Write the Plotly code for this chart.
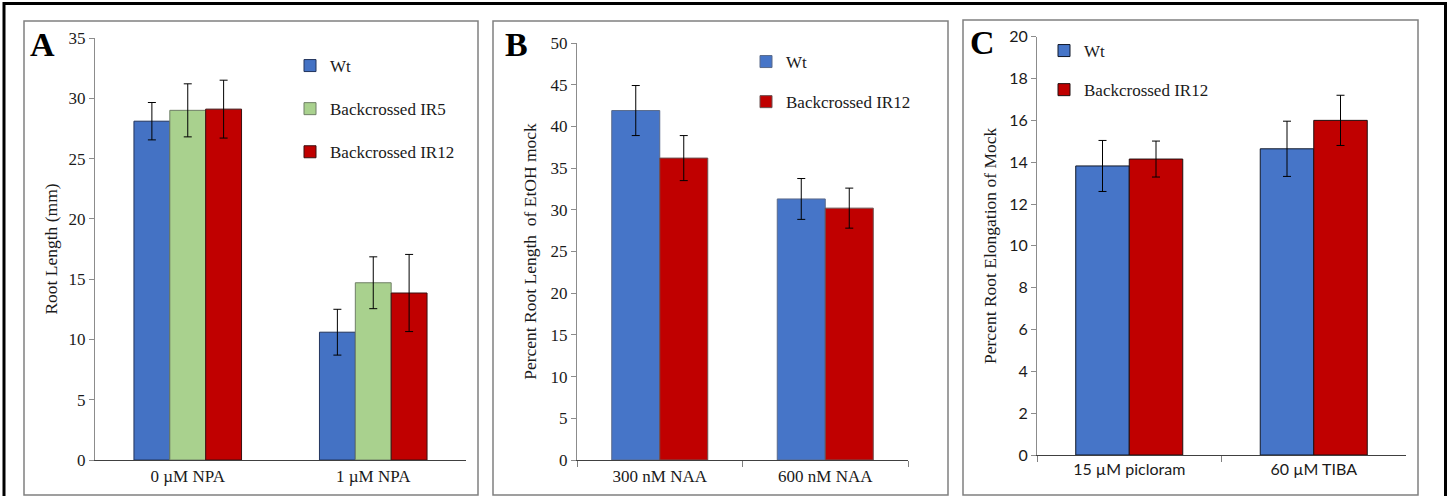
import plotly.graph_objects as go

W, H = 1448, 496

# ---------------- data ----------------
cats_a = ["0 µM NPA", "1 µM NPA"]
a_wt = [28.1, 10.6]
a_wt_err = [1.55, 1.9]
a_ir5 = [29.0, 14.7]
a_ir5_err = [2.2, 2.15]
a_ir12 = [29.1, 13.85]
a_ir12_err = [2.4, 3.2]

cats_b = ["300 nM NAA", "600 nM NAA"]
b_wt = [41.9, 31.3]
b_wt_err = [3.0, 2.45]
b_ir12 = [36.2, 30.2]
b_ir12_err = [2.7, 2.4]

cats_c = ["15 µM picloram", "60 µM TIBA"]
c_wt = [13.82, 14.64]
c_wt_err = [1.22, 1.32]
c_ir12 = [14.15, 16.0]
c_ir12_err = [0.86, 1.2]

yticks_a = [0, 5, 10, 15, 20, 25, 30, 35]
yticks_b = [0, 5, 10, 15, 20, 25, 30, 35, 40, 45, 50]
yticks_c = [0, 2, 4, 6, 8, 10, 12, 14, 16, 18, 20]

# ---------------- style ----------------
SERIF = "Liberation Serif"
SANS = "Lato"
BLUE = "#4472c4"
BLUE_G = "#4675c8"
GREEN = "#a9d18e"
RED = "#c00000"


def px(x):
    return x / W


def py(y):
    return 1 - y / H


def err(arr):
    return dict(type="data", array=arr, visible=True, color="black", thickness=1, width=4)


fig = go.Figure()

# Panel A
fig.add_trace(go.Bar(x=cats_a, y=a_wt, name="Wt", error_y=err(a_wt_err),
                     marker=dict(color=BLUE, line=dict(color="#22345c", width=1)),
                     xaxis="x", yaxis="y", legend="legend", legendgroup="a1"))
fig.add_trace(go.Bar(x=cats_a, y=a_ir5, name="Backcrossed IR5", error_y=err(a_ir5_err),
                     marker=dict(color=GREEN, line=dict(color="#6f7f66", width=1)),
                     xaxis="x", yaxis="y", legend="legend", legendgroup="a2"))
fig.add_trace(go.Bar(x=cats_a, y=a_ir12, name="Backcrossed IR12", error_y=err(a_ir12_err),
                     marker=dict(color=RED, line=dict(color="#3a1010", width=1)),
                     xaxis="x", yaxis="y", legend="legend", legendgroup="a3"))

# Panel B
fig.add_trace(go.Bar(x=cats_b, y=b_wt, name="Wt", error_y=err(b_wt_err),
                     marker=dict(color=BLUE_G, line=dict(color="#5a6a8a", width=1)),
                     xaxis="x2", yaxis="y2", legend="legend2", legendgroup="b1"))
fig.add_trace(go.Bar(x=cats_b, y=b_ir12, name="Backcrossed IR12", error_y=err(b_ir12_err),
                     marker=dict(color=RED, line=dict(color="#6a5050", width=1)),
                     xaxis="x2", yaxis="y2", legend="legend2", legendgroup="b2"))

# Panel C
fig.add_trace(go.Bar(x=cats_c, y=c_wt, name="Wt", error_y=err(c_wt_err),
                     marker=dict(color=BLUE_G, line=dict(color="#101828", width=1)),
                     xaxis="x3", yaxis="y3", legend="legend3", legendgroup="c1"))
fig.add_trace(go.Bar(x=cats_c, y=c_ir12, name="Backcrossed IR12", error_y=err(c_ir12_err),
                     marker=dict(color=RED, line=dict(color="#201010", width=1)),
                     xaxis="x3", yaxis="y3", legend="legend3", legendgroup="c2"))


def xax(domain, font, ticks, anchor):
    return dict(domain=domain, anchor=anchor, showgrid=False, zeroline=False,
                showline=True, linecolor="#404040", linewidth=1.2,
                ticks=ticks, ticklen=6, tickcolor="#808080", tickson="boundaries",
                tickfont=font, automargin=False, fixedrange=True)


def yax(domain, rng, tickvals, font, title, tfont, anchor, standoff):
    return dict(domain=domain, range=rng, tickvals=tickvals, anchor=anchor,
                showgrid=False, zeroline=False,
                showline=True, linecolor="#8c8c8c", linewidth=1.2,
                ticks="outside", ticklen=5, tickcolor="#8c8c8c",
                tickfont=font, title=dict(text=title, font=tfont, standoff=standoff),
                automargin=False, fixedrange=True)


serif17 = dict(family=SERIF, size=17, color="#1a1a1a")
sans16 = dict(family=SANS, size=16, color="#1a1a1a")
ytitle = dict(family=SERIF, size=17.5, color="#1a1a1a")

xa = xax([px(95), px(466)], serif17, "", "y")
xb = xax([px(577), px(908)], serif17, "outside", "y2")
xc = xax([px(1037), px(1406)], sans16, "outside", "y3")

ya = yax([py(460), py(38)], [0, 35], yticks_a, serif17, "Root Length (mm)", ytitle, "x", 6)
yb = yax([py(460), py(43)], [0, 50], yticks_b, serif17, "Percent Root Length  of EtOH mock", ytitle, "x2", 9)
yc = yax([py(455), py(36.7)], [0, 20], yticks_c, sans16, "Percent Root Elongation of Mock", ytitle, "x3", 8)


def leg(x, y, gap):
    return dict(x=px(x), y=py(y), xanchor="left", yanchor="top",
                font=dict(family=SERIF, size=17, color="#1a1a1a"),
                bgcolor="rgba(0,0,0,0)", tracegroupgap=gap, itemwidth=30,
                traceorder="grouped")


shapes = [
    # panel boxes
    dict(type="rect", xref="paper", yref="paper", x0=px(24), x1=px(478), y0=py(495), y1=py(21),
         line=dict(color="#808080", width=1.5), layer="below"),
    dict(type="rect", xref="paper", yref="paper", x0=px(493), x1=px(948), y0=py(495), y1=py(21),
         line=dict(color="#808080", width=1.5), layer="below"),
    dict(type="rect", xref="paper", yref="paper", x0=px(963), x1=px(1418), y0=py(495), y1=py(20),
         line=dict(color="#808080", width=1.5), layer="below"),
    # outer border
    dict(type="rect", xref="paper", yref="paper", x0=px(4), x1=px(1445.5), y0=py(505), y1=py(3.5),
         line=dict(color="black", width=3), layer="below"),
]

letters = [("A", 42, 44), ("B", 516, 44), ("C", 982, 42)]
annotations = [
    dict(text=f"<b>{t}</b>", x=px(x), y=py(y), xref="paper", yref="paper", showarrow=False,
         xanchor="center", yanchor="middle", font=dict(family=SERIF, size=34, color="black"))
    for t, x, y in letters
]

fig.update_layout(
    width=W, height=H, margin=dict(l=0, r=0, t=0, b=0, pad=0, autoexpand=False),
    font=dict(family=SERIF, size=16, color="#1a1a1a"),
    paper_bgcolor="white", plot_bgcolor="white",
    barmode="group", bargap=0.42, bargroupgap=0,
    xaxis=xa, yaxis=ya, xaxis2=xb, yaxis2=yb, xaxis3=xc, yaxis3=yc,
    legend=leg(290, 48, 18), legend2=leg(746, 44, 15), legend3=leg(1044, 33, 14),
    shapes=shapes, annotations=annotations, showlegend=True,
)

fig.write_html("out.html", config={"displayModeBar": False},
               post_script="document.body.style.margin='0px';document.body.style.overflow='hidden';")
